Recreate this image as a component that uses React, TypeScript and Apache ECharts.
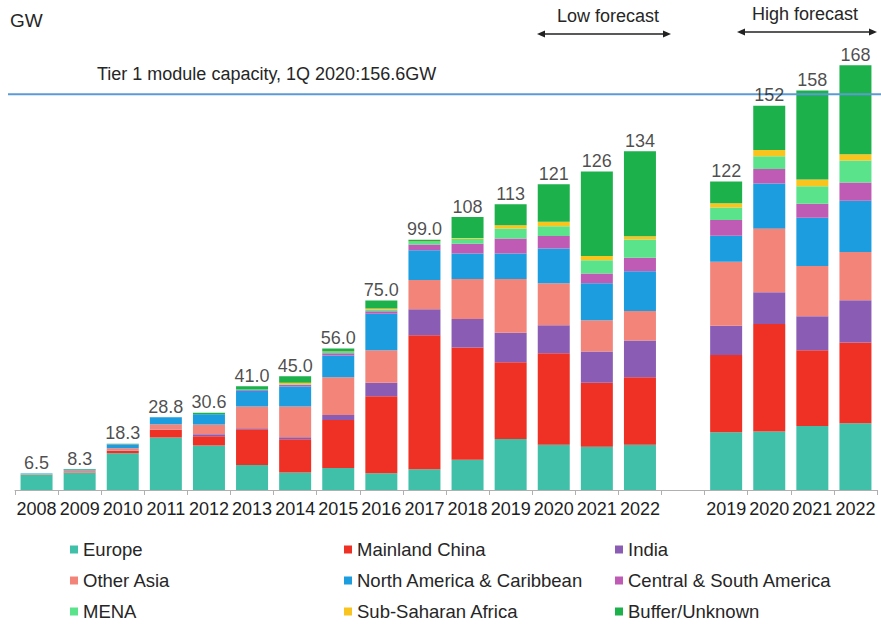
import React, { useEffect, useRef } from "react";
import * as echarts from "echarts";

const categories = [
  "2008", "2009", "2010", "2011", "2012", "2013", "2014", "2015", "2016", "2017",
  "2018", "2019", "2020", "2021", "2022", "", "2019", "2020", "2021", "2022",
];

const europe = [6.1, 6.7, 14.5, 20.8, 17.6, 9.9, 6.9, 8.7, 6.6, 8.2, 12.0, 20.2, 17.9, 17.1, 17.9, null, 22.8, 23.1, 25.3, 26.4];
const mainlandChina = [0.0, 0.2, 1.0, 3.0, 3.7, 14.1, 13.2, 19.0, 30.5, 53.0, 44.4, 30.3, 36.2, 25.3, 26.7, null, 30.6, 42.6, 30.0, 32.0];
const india = [0.0, 0.0, 0.1, 0.1, 0.8, 0.4, 0.8, 2.0, 5.3, 10.3, 11.2, 11.7, 11.1, 12.4, 14.5, null, 11.6, 12.5, 13.4, 16.7];
const otherAsia = [0.2, 0.8, 0.9, 2.1, 3.8, 8.6, 12.1, 14.9, 12.9, 11.6, 15.9, 21.3, 16.6, 12.4, 11.7, null, 25.3, 25.3, 19.9, 19.1];
const northAmerica = [0.2, 0.4, 1.5, 2.8, 4.1, 6.3, 7.9, 8.6, 14.4, 11.7, 10.1, 10.1, 13.7, 14.6, 15.7, null, 10.3, 17.8, 19.1, 20.2];
const centralSouthAmerica = [0.0, 0.0, 0.1, 0.0, 0.0, 0.3, 0.7, 0.9, 1.0, 2.3, 3.8, 5.9, 5.0, 3.8, 5.4, null, 6.2, 5.7, 5.5, 7.2];
const mena = [0.0, 0.0, 0.0, 0.0, 0.0, 0.2, 0.2, 0.5, 0.6, 1.0, 2.0, 4.0, 3.8, 5.3, 7.2, null, 5.0, 5.0, 7.0, 8.8];
const subSaharanAfrica = [0.0, 0.0, 0.0, 0.0, 0.0, 0.0, 0.6, 0.2, 0.5, 0.2, 0.3, 1.2, 1.8, 1.7, 1.3, null, 1.6, 2.5, 2.6, 2.4];
const bufferUnknown = [0.0, 0.2, 0.2, 0.0, 0.6, 1.2, 2.6, 1.2, 3.2, 0.7, 8.3, 8.3, 14.9, 33.4, 33.6, null, 8.6, 17.5, 35.2, 35.2];

const totalLabels = [
  "6.5", "8.3", "18.3", "28.8", "30.6", "41.0", "45.0", "56.0", "75.0", "99.0",
  "108", "113", "121", "126", "134", "", "122", "152", "158", "168",
];

const tier1Capacity = 156.6;
const tier1Text = "Tier 1 module capacity, 1Q 2020:156.6GW";

const seriesDefs = [
  { name: "Europe", data: europe, color: "#40bfa9" },
  { name: "Mainland China", data: mainlandChina, color: "#ee3124" },
  { name: "India", data: india, color: "#8a5cb4" },
  { name: "Other Asia", data: otherAsia, color: "#f2847a" },
  { name: "North America & Caribbean", data: northAmerica, color: "#1b9de0" },
  { name: "Central & South America", data: centralSouthAmerica, color: "#bf5bb4" },
  { name: "MENA", data: mena, color: "#5be38c" },
  { name: "Sub-Saharan Africa", data: subSaharanAfrica, color: "#f9c41d" },
  { name: "Buffer/Unknown", data: bufferUnknown, color: "#1db14b" },
];

const FONT = "'Liberation Sans', Arial, Helvetica, sans-serif";

export default function App() {
  const ref = useRef<HTMLDivElement>(null);

  useEffect(() => {
    if (!ref.current) return;
    const chart = echarts.init(ref.current, undefined, { renderer: "svg" });

    const totals = categories.map((_, i) => {
      let s = 0;
      let any = false;
      for (const d of seriesDefs) {
        const v = d.data[i];
        if (v !== null && v !== undefined) {
          s += v as number;
          any = true;
        }
      }
      return any ? [i, Math.round(s * 10) / 10] : [i, null];
    });

    const legendCommon = {
      orient: "vertical" as const,
      top: 540,
      height: 84,
      padding: 0,
      itemWidth: 8,
      itemHeight: 8,
      itemGap: 12,
      icon: "rect",
      selectedMode: false,
      textStyle: { fontSize: 18.5, color: "#262626", fontFamily: FONT, lineHeight: 18 },
    };

    chart.setOption({
      animation: false,
      textStyle: { fontFamily: FONT },
      grid: { left: 15, right: 4, top: 35, bottom: 134, containLabel: false },
      legend: [
        { ...legendCommon, left: 70, data: ["Europe", "Other Asia", "MENA"] },
        { ...legendCommon, left: 344, data: ["Mainland China", "North America & Caribbean", "Sub-Saharan Africa"] },
        { ...legendCommon, left: 615, data: ["India", "Central & South America", "Buffer/Unknown"] },
      ],
      xAxis: {
        type: "category",
        data: categories,
        axisLine: { lineStyle: { color: "#b0b0b0", width: 1 } },
        axisTick: { show: true, alignWithLabel: false, length: 5, lineStyle: { color: "#b0b0b0" } },
        axisLabel: { interval: 0, fontSize: 18, color: "#1e1e1e", margin: 10, fontFamily: FONT },
      },
      yAxis: {
        type: "value",
        min: 0,
        max: 180,
        show: false,
        splitLine: { show: false },
      },
      series: [
        ...seriesDefs.map((d) => ({
          name: d.name,
          type: "bar",
          stack: "total",
          barWidth: 32,
          data: d.data,
          itemStyle: { color: d.color },
          emphasis: { disabled: true },
        })),
        {
          name: "Total",
          type: "scatter",
          data: totals,
          symbolSize: 1,
          itemStyle: { color: "rgba(0,0,0,0)" },
          label: {
            show: true,
            position: "top",
            distance: 1,
            fontSize: 18,
            color: "#1e1e1e",
            fontFamily: FONT,
            formatter: (p: any) => totalLabels[p.dataIndex],
          },
          emphasis: { disabled: true },
          z: 10,
        },
      ],
    });

    const yLine = chart.convertToPixel({ yAxisIndex: 0 }, tier1Capacity) as number;

    const arrow = (x1: number, x2: number, y: number) => [
      { type: "line", shape: { x1: x1 + 4, y1: y, x2: x2 - 4, y2: y }, style: { stroke: "#222", lineWidth: 1.3 } },
      { type: "polygon", shape: { points: [[x1, y], [x1 + 8, y - 3.5], [x1 + 8, y + 3.5]] }, style: { fill: "#222" } },
      { type: "polygon", shape: { points: [[x2, y], [x2 - 8, y - 3.5], [x2 - 8, y + 3.5]] }, style: { fill: "#222" } },
    ];

    chart.setOption({
      graphic: [
        { type: "text", left: 10, top: 11, style: { text: "GW", fontSize: 19, fill: "#262626", fontFamily: FONT } },
        {
          type: "line",
          shape: { x1: 8, y1: yLine, x2: 881, y2: yLine },
          style: { stroke: "#5b9bd5", lineWidth: 2 },
          z: 5,
        },
        {
          type: "text",
          left: 97,
          top: yLine - 29,
          style: { text: tier1Text, fontSize: 18, fill: "#262626", fontFamily: FONT },
        },
        { type: "text", left: 557, top: 7, style: { text: "Low forecast", fontSize: 18, fill: "#262626", fontFamily: FONT } },
        ...arrow(537, 671, 34),
        { type: "text", left: 752, top: 5, style: { text: "High forecast", fontSize: 18, fill: "#262626", fontFamily: FONT } },
        ...arrow(737, 877, 32),
      ],
    });

    return () => chart.dispose();
  }, []);

  return (
    <div
      ref={ref}
      style={{ position: "fixed", left: 0, top: 0, width: 881, height: 624, background: "#fff" }}
    />
  );
}
